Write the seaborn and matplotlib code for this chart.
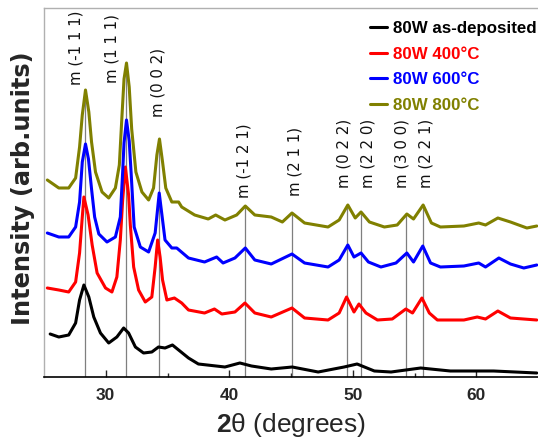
import numpy as np
import pandas as pd
import matplotlib
matplotlib.use("Agg")
import matplotlib.pyplot as plt
import seaborn as sns

# ---------------- data ----------------
black_x = [25.5, 26.2, 27.0, 27.56, 27.88, 28.23, 28.63, 29.03, 29.57, 30.24, 30.9, 31.45, 31.85, 32.4, 33.06,
           33.73, 34.27, 34.8, 35.4, 35.9, 36.7, 37.5, 39.65, 40.86, 41.8, 43.4, 45.1, 47.2, 49.3, 50.35,
           51.75, 53.1, 55.5, 57.9, 61.4, 64.9]
black_y = [43, 40, 42, 54, 77, 92, 80, 60, 44, 34, 40, 49, 44, 30, 24,
           25, 30, 29, 32, 27, 19, 13, 10, 14, 11, 8, 10, 5, 10, 13,
           6, 5, 9, 6, 6, 4]

red_x = [25.27, 26.2, 27.0, 27.56, 27.88, 28.1, 28.23, 28.57, 28.9, 29.3, 29.98, 30.5, 30.9, 31.18, 31.37,
         31.59, 31.85, 31.99, 32.26, 32.66, 33.2, 33.73, 34.0, 34.2, 34.4, 34.6, 34.95, 35.56, 36.15, 36.7,
         38.0, 38.8, 39.4, 40.46, 41.27, 42.07, 43.4, 45.08, 46.1, 48.0, 48.9, 49.5, 50.1, 50.5, 51.07,
         52.0, 53.2, 54.3, 54.84, 55.6, 56.2, 56.85, 59.0, 60.08, 60.75, 61.75, 62.77, 64.9]
red_y = [89, 87, 85, 95, 124, 160, 180, 162, 132, 104, 89, 85, 100, 137, 177,
         210, 182, 152, 110, 87, 75, 80, 110, 137, 120, 97, 77, 79, 74, 67,
         64, 68, 63, 65, 74, 64, 60, 69, 59, 57, 64, 80, 65, 73, 64,
         57, 58, 68, 64, 79, 64, 57, 57, 60, 58, 66, 59, 57]

blue_x = [25.27, 26.2, 27.0, 27.56, 27.88, 28.1, 28.36, 28.6, 28.85, 29.1, 29.44, 30.1, 30.78, 31.18, 31.37,
          31.48, 31.68, 31.9, 32.05, 32.3, 32.8, 33.47, 34.0, 34.33, 34.6, 34.8, 35.35, 35.75, 36.7, 38.0,
          38.98, 39.5, 40.46, 41.3, 42.07, 43.4, 45.08, 46.1, 48.0, 48.9, 49.6, 50.1, 50.67, 51.27, 52.28,
          53.5, 54.38, 54.92, 55.67, 56.3, 57.1, 59.0, 60.2, 60.75, 61.83, 62.77, 63.85, 64.9]
blue_y = [144, 140, 140, 150, 175, 215, 233, 218, 188, 160, 143, 135, 140, 160, 205,
          234, 257, 236, 205, 150, 130, 125, 144, 184, 157, 137, 129, 129, 119, 115,
          120, 114, 119, 129, 117, 113, 123, 114, 110, 117, 132, 120, 124, 115, 110,
          114, 124, 115, 131, 114, 110, 111, 114, 110, 119, 113, 109, 112]

olive_x = [25.27, 26.2, 27.0, 27.56, 27.88, 28.1, 28.36, 28.63, 28.85, 29.17, 29.7, 30.24, 30.78, 31.1, 31.3,
           31.48, 31.68, 31.9, 32.1, 32.44, 32.93, 33.47, 33.87, 34.14, 34.35, 34.6, 34.86, 35.35, 35.9, 36.15,
           37.2, 38.3, 38.9, 39.65, 40.6, 41.3, 42.07, 43.4, 44.3, 45.08, 46.1, 48.0, 48.9, 49.6, 50.2,
           50.67, 51.35, 52.56, 53.6, 54.38, 54.92, 55.7, 56.37, 57.1, 59.0, 60.2, 60.75, 61.75, 62.77, 64.1,
           64.9]
olive_y = [197, 189, 189, 199, 230, 262, 287, 265, 235, 205, 185, 179, 189, 212, 258,
           298, 314, 290, 248, 205, 185, 177, 189, 222, 238, 215, 189, 175, 175, 170,
           162, 158, 162, 157, 162, 171, 162, 160, 155, 164, 154, 150, 157, 172, 159,
           165, 155, 150, 152, 163, 158, 172, 154, 150, 151, 154, 152, 159, 155, 149,
           151]

series_keys = ["as-deposited", "400", "600", "800"]
legend_labels = ["80W as-deposited", "80W 400°C", "80W 600°C", "80W 800°C"]

peak_pos = [28.3, 31.6, 34.3, 41.3, 45.1, 49.55, 50.7, 54.3, 55.7]
peak_labels = ["m (-1 1 1)", "m (1 1 1)", "m (0 0 2)", "m (-1 2 1)", "m (2 1 1)",
               "m (0 2 2)", "m (2 2 0)", "m (3 0 0)", "m (2 2 1)"]

# ---------------- layout / style ----------------
label_x = [27.6, 30.5, 34.2, 41.2, 45.3, 49.3, 51.2, 54.0, 55.9]
label_bottom = [292, 294, 260, 179, 181, 189, 189, 189, 189]
colors = ["#000000", "#ff0000", "#0000ff", "#808000"]

sns.set_style("ticks")
plt.rcParams["font.family"] = ["Liberation Sans", "DejaVu Sans"]
plt.rcParams["mathtext.fontset"] = "custom"
plt.rcParams["mathtext.rm"] = "Liberation Sans"
plt.rcParams["mathtext.bf"] = "Liberation Sans:bold"
plt.rcParams["mathtext.it"] = "Liberation Sans:italic"

frames = []
for key, xs, ys in zip(series_keys, [black_x, red_x, blue_x, olive_x],
                       [black_y, red_y, blue_y, olive_y]):
    frames.append(pd.DataFrame({"two_theta": xs, "intensity": ys, "sample": key}))
df = pd.concat(frames, ignore_index=True)

fig = plt.figure(figsize=(5.38, 4.42), dpi=100)
ax = fig.add_axes([44 / 538, 65 / 442, 1 - 44 / 538, 369 / 442])

# reference lines behind the curves
for p in peak_pos:
    top = np.interp(p, olive_x, olive_y)
    ax.plot([p, p], [0, top], color="#7f7f7f", lw=0.9, zorder=1)

sns.lineplot(data=df, x="two_theta", y="intensity", hue="sample",
             hue_order=series_keys, palette=colors, estimator=None,
             lw=2.2, ax=ax, legend=False, zorder=3)
for ln in ax.lines:
    ln.set_solid_joinstyle("round")

for txt, xc, yb in zip(peak_labels, label_x, label_bottom):
    ax.text(xc, yb, txt, rotation=90, ha="center", va="bottom",
            fontsize=10.8, family="DejaVu Sans", color="#111111", zorder=4)

ax.set_xlim(25, 65)
ax.set_ylim(0, 369)
ax.set_yticks([])
ax.set_xticks([30, 40, 50, 60])
ax.set_xticks([35, 45, 55], minor=True)
ax.tick_params(axis="x", which="major", direction="in", length=5, width=1,
               labelsize=12.5, pad=8)
ax.tick_params(axis="x", which="minor", direction="in", length=3, width=1)
for lab in ax.get_xticklabels():
    lab.set_fontweight("bold")

ax.spines["right"].set_visible(False)
for s in ["left", "top"]:
    ax.spines[s].set_color("#b0b0b0")
    ax.spines[s].set_linewidth(1.0)
ax.spines["bottom"].set_color("black")
ax.spines["bottom"].set_linewidth(1.2)

ax.set_xlabel(r"$\mathbf{2}$θ (degrees)", fontsize=19, labelpad=6)
ax.set_ylabel("Intensity (arb.units)", fontsize=17.3, fontweight="bold",
              family="DejaVu Sans")
ax.yaxis.label.set_verticalalignment("center")
ax.yaxis.set_label_coords(-0.0415, 0.513)

handles = [plt.Line2D([], [], color=c, lw=2.2) for c in colors]
leg = fig.legend(handles, legend_labels, loc="upper left",
                 bbox_to_anchor=(370 / 538, 1 - 21 / 442), frameon=False,
                 handlelength=1.0, handletextpad=0.35, labelspacing=0.62,
                 borderpad=0, borderaxespad=0,
                 prop={"weight": "bold", "size": 12.2})
for t, c in zip(leg.get_texts(), colors):
    t.set_color(c)

fig.savefig("out.png", dpi=100)
